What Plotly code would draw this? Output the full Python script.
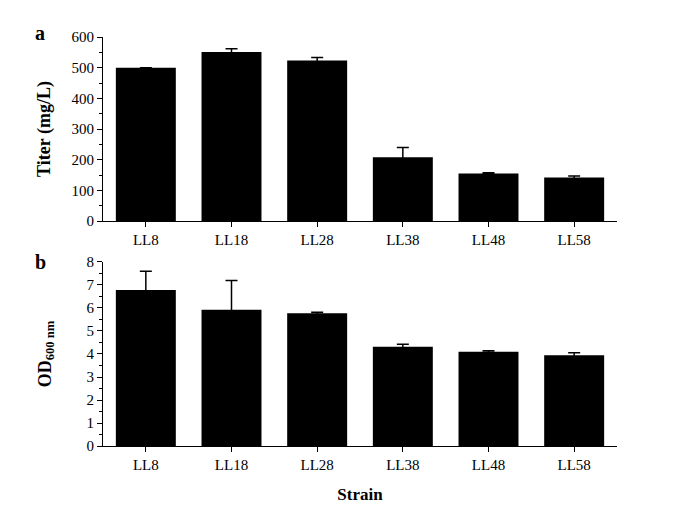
import plotly.graph_objects as go
from plotly.subplots import make_subplots

strains = ["LL8", "LL18", "LL28", "LL38", "LL48", "LL58"]
titer = [500, 551, 523, 208, 155, 142]
titer_err = [None, 11, 10, 32, 2, 5]
od600 = [6.78, 5.92, 5.77, 4.32, 4.10, 3.95]
od600_err = [0.82, 1.28, 0.05, 0.10, 0.04, 0.10]

FONT = "Liberation Serif, Times New Roman, serif"

fig = make_subplots(rows=2, cols=1, shared_xaxes=False, vertical_spacing=0.1)

fig.add_trace(go.Bar(
    x=strains, y=titer, width=0.7,
    marker=dict(color="black", line=dict(width=0)),
    error_y=dict(type="data", symmetric=True, array=titer_err, color="black",
                 thickness=1.5, width=6),
    showlegend=False), row=1, col=1)

fig.add_trace(go.Bar(
    x=strains, y=od600, width=0.7,
    marker=dict(color="black", line=dict(width=0)),
    error_y=dict(type="data", symmetric=True, array=od600_err, color="black",
                 thickness=1.5, width=6),
    showlegend=False), row=2, col=1)

axis_common = dict(showline=True, linecolor="black", linewidth=1.2,
                   ticks="outside", ticklen=5, tickcolor="black", tickwidth=1.2,
                   showgrid=False, zeroline=False,
                   tickfont=dict(family=FONT, size=15, color="black"))

fig.update_xaxes(**axis_common, range=[-0.5, 5.5])
fig.update_xaxes(domain=[0, 1])
fig.update_yaxes(**axis_common)

fig.update_yaxes(row=1, col=1, range=[0, 600], dtick=100, domain=[0.5501, 1],
                 minor=dict(ticks="outside", ticklen=3, dtick=50, tickcolor="black", tickwidth=1),
                 title=dict(text="<b>Titer (mg/L)</b>", font=dict(family=FONT, size=18, color="black"), standoff=16))
fig.update_yaxes(row=2, col=1, range=[0, 8], dtick=1, domain=[0, 0.4499],
                 minor=dict(ticks="outside", ticklen=3, dtick=0.5, tickcolor="black", tickwidth=1),
                 title=dict(text="<b>OD<sub>600 nm</sub></b>", font=dict(family=FONT, size=18, color="black"), standoff=30))
fig.update_xaxes(row=2, col=1,
                 title=dict(text="<b>Strain</b>", font=dict(family=FONT, size=17, color="black"), standoff=16))

# page body has an 8px margin; offsets below are in figure pixels
W, H = 685, 525
L, T = 95, 29
R = W - 609
B = H - 438
pw, ph = W - L - R, H - T - B

for lab, px, py in (("a", 32, 25), ("b", 32, 254)):
    fig.add_annotation(text=f"<b>{lab}</b>", x=(px - L) / pw, y=(H - B - py) / ph,
                       xref="paper", yref="paper", xanchor="center", yanchor="middle",
                       showarrow=False, font=dict(family=FONT, size=20, color="black"))

fig.update_layout(
    width=W, height=H,
    margin=dict(l=L, r=R, t=T, b=B),
    plot_bgcolor="white", paper_bgcolor="white",
    font=dict(family=FONT, color="black"),
)

fig.write_html("out.html")
